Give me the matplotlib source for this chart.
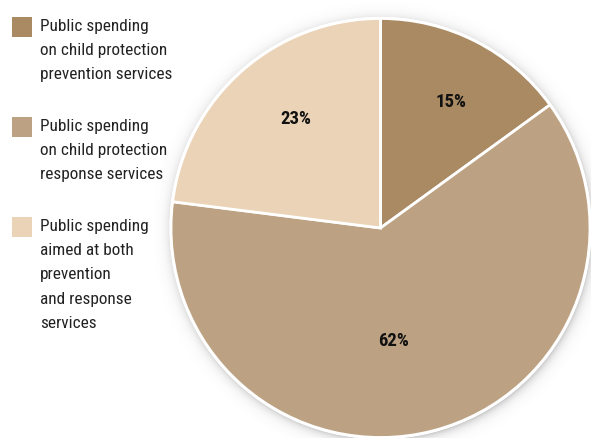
import numpy as np
import matplotlib
matplotlib.use("Agg")
import matplotlib.pyplot as plt
from matplotlib.patches import Rectangle, Circle
from matplotlib import font_manager

# Spending shares (percent)
categories = [
    "Public spending\non child protection\nprevention services",
    "Public spending\non child protection\nresponse services",
    "Public spending\naimed at both\nprevention\nand response\nservices",
]
shares = [15, 62, 23]
colors = ["#A98A63", "#BCA283", "#EBD3B7"]

names = {f.name for f in font_manager.fontManager.ttflist}
family = "DejaVu Sans"
for cand in ["Roboto Condensed", "Archivo Narrow", "Fira Sans Condensed", "PT Sans Narrow"]:
    if cand in names:
        family = cand
        break
plt.rcParams["font.family"] = [family, "DejaVu Sans"]

W, H = 591, 438
fig = plt.figure(figsize=(W / 100, H / 100), dpi=100)
fig.patch.set_facecolor("white")

# Pie geometry in pixels
cx, cy, R = 380.5, 228.0, 209.5
ax = fig.add_axes([0, 0, 1, 1])
xlim = (-cx / R, (W - cx) / R)
ylim = (-(H - cy) / R, cy / R)

# soft drop shadow around the disc
gx = np.linspace(xlim[0], xlim[1], W)
gy = np.linspace(ylim[0], ylim[1], H)
X, Y = np.meshgrid(gx, gy)
D = np.hypot(X - 0.006, Y + 0.010)
alpha = np.where(D > 1.0, 0.30 * np.exp(-np.clip(D - 1.0, 0, None) / 0.022), 0.30)
img = np.zeros((H, W, 4))
img[..., :3] = 0.30
img[..., 3] = alpha
ax.imshow(img, extent=(xlim[0], xlim[1], ylim[0], ylim[1]), origin="lower",
          zorder=0, aspect="auto")
ax.add_patch(Circle((0, 0), 1.008, facecolor="white", edgecolor="none", zorder=1))

wedges, _ = ax.pie(
    shares, colors=colors, startangle=90, counterclock=False, radius=1.0,
    wedgeprops=dict(edgecolor="white", linewidth=2.0),
)
for w in wedges:
    w.set_zorder(2)

# percentage labels
label_r = [0.69, 0.545, 0.66]
label_shift = [-2, -8, -3.5]
start = 90.0
for s, r, sh in zip(shares, label_r, label_shift):
    mid = start - s * 3.6 / 2 + sh
    start -= s * 3.6
    ang = np.deg2rad(mid)
    ax.text(r * np.cos(ang), r * np.sin(ang), f"{s}%", ha="center", va="center",
            fontsize=13.5, fontweight="bold", color="#111111", zorder=3)

ax.set_aspect("auto")
ax.set_xlim(*xlim)
ax.set_ylim(*ylim)
ax.axis("off")

# legend drawn in pixel coordinates
for i, (lab, c) in enumerate(zip(categories, colors)):
    top = 17 + 100 * i
    fig.patches.append(Rectangle((12 / W, 1 - (top + 20) / H), 20 / W, 20 / H,
                                 transform=fig.transFigure, facecolor=c, edgecolor="none"))
    fig.text(40 / W, 1 - (top + 2) / H, lab, ha="left", va="top", fontsize=12.4,
             color="#222222", linespacing=1.77)

fig.savefig("out.png", dpi=100, facecolor="white")
